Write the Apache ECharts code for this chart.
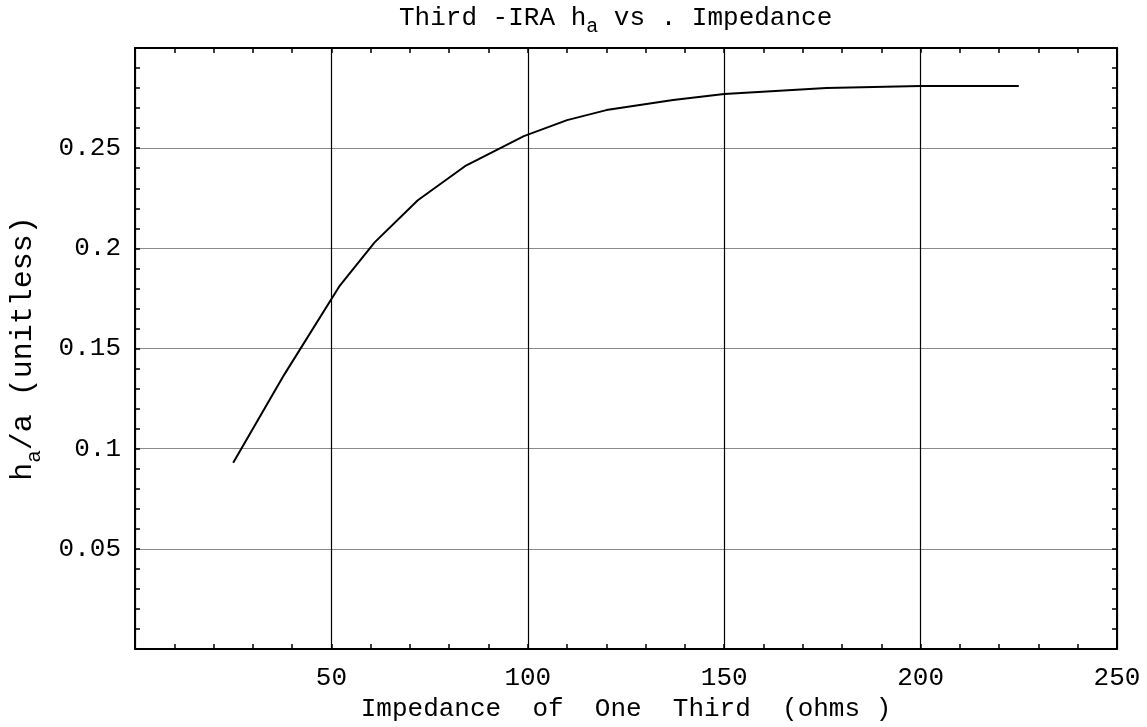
<!DOCTYPE html>
<html>
<head>
<meta charset="utf-8">
<script src="https://cdn.jsdelivr.net/npm/echarts@6/dist/echarts.min.js"></script>
<style>
html,body{margin:0;padding:0;background:#fff;}
#chart{width:1147px;height:727px;}
</style>
</head>
<body>
<div id="chart"></div>
<script>
// Data
const impedance = [25, 38, 52, 61, 72, 84, 99, 110, 120, 137, 150, 176, 200, 225];
const haOverA   = [0.093, 0.137, 0.181, 0.203, 0.224, 0.241, 0.256, 0.264, 0.269, 0.274, 0.277, 0.280, 0.281, 0.281];
const xTicks = [50, 100, 150, 200, 250];
const yTicks = [0.05, 0.1, 0.15, 0.2, 0.25];

const FONT = '"Liberation Mono", "Courier New", monospace';
const chart = echarts.init(document.getElementById('chart'));

const points = impedance.map((x, i) => [x, haOverA[i]]);

function baseAxisCommon() {
  return {
    axisLine: { show: true, onZero: false, lineStyle: { color: '#000', width: 2 } },
    axisTick: { show: true, inside: true, length: 5, lineStyle: { color: '#000', width: 1.5 } },
    minorTick: { show: true, splitNumber: 5, length: 5, lineStyle: { color: '#000', width: 1.5 } },
  };
}

const option = {
  backgroundColor: '#fff',
  animation: false,
  title: {
    text: '{n|Third -IRA h}{s|a}{n| vs . Impedance}',
    left: 394,
    top: 2,
    textStyle: {
      fontWeight: 'normal',
      rich: {
        n: { fontFamily: FONT, fontSize: 26, fontWeight: 'normal', color: '#000', lineHeight: 30, verticalAlign: 'bottom', padding: [0, 0, 6, 0] },
        s: { fontFamily: FONT, fontSize: 20, fontWeight: 'normal', color: '#000', lineHeight: 22, verticalAlign: 'bottom' }
      }
    }
  },
  grid: { left: 133, right: 30, top: 48, bottom: 76, containLabel: false },
  xAxis: [
    Object.assign(baseAxisCommon(), {
      type: 'value', position: 'bottom', min: 0, max: 250, interval: 50,
      name: 'Impedance  of  One  Third  (ohms )',
      nameLocation: 'middle', nameGap: 44,
      nameTextStyle: { fontFamily: FONT, fontSize: 26, color: '#000' },
      axisLabel: {
        show: true, margin: 16, fontFamily: FONT, fontSize: 26, color: '#000',
        formatter: v => (xTicks.indexOf(v) >= 0 ? String(v) : '')
      },
      splitLine: { show: true, lineStyle: { color: '#000', width: 1.2 } }
    }),
    Object.assign(baseAxisCommon(), {
      type: 'value', position: 'top', min: 0, max: 250, interval: 50,
      axisLabel: { show: false }, splitLine: { show: false }
    })
  ],
  yAxis: [
    Object.assign(baseAxisCommon(), {
      type: 'value', position: 'left', min: 0, max: 0.3, interval: 0.05,
      name: '{n|h}{s|a}{n|/a (unitless)}',
      nameLocation: 'middle', nameGap: 90, nameRotate: 90,
      nameTextStyle: {
        rich: {
          n: { fontFamily: FONT, fontSize: 30, color: '#000', lineHeight: 34, verticalAlign: 'bottom', padding: [0, 0, 7, 0] },
          s: { fontFamily: FONT, fontSize: 21, color: '#000', lineHeight: 23, verticalAlign: 'bottom' }
        }
      },
      axisLabel: {
        show: true, margin: 14, fontFamily: FONT, fontSize: 26, color: '#000',
        formatter: v => {
          const r = Math.round(v * 100) / 100;
          return yTicks.indexOf(r) >= 0 ? String(r) : '';
        }
      },
      splitLine: { show: true, lineStyle: { color: '#8a8a8a', width: 1.2 } }
    }),
    Object.assign(baseAxisCommon(), {
      type: 'value', position: 'right', min: 0, max: 0.3, interval: 0.05,
      axisLabel: { show: false }, splitLine: { show: false }
    })
  ],
  series: [{
    type: 'line',
    xAxisIndex: 0, yAxisIndex: 0,
    data: points,
    showSymbol: false,
    symbol: 'none',
    smooth: false,
    lineStyle: { color: '#000', width: 2 },
    z: 5
  }]
};

chart.setOption(option);
</script>
</body>
</html>
